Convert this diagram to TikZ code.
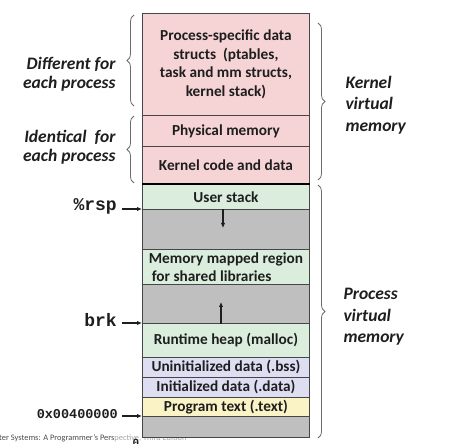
\documentclass[tikz,border=0pt]{standalone}
\usepackage{fontspec}
\setmainfont{Carlito}
\newfontfamily\monof{Liberation Mono}
\usetikzlibrary{arrows.meta,decorations.pathreplacing}
\definecolor{pinkc}{RGB}{246,212,214}
\definecolor{greenc}{RGB}{219,238,221}
\definecolor{grayc}{RGB}{191,191,191}
\definecolor{lavc}{RGB}{221,222,242}
\definecolor{yelc}{RGB}{249,243,197}
\definecolor{edgec}{RGB}{70,70,70}
\definecolor{txtc}{RGB}{30,30,30}
\begin{document}
\begin{tikzpicture}[x=1pt,y=-1pt,
  mem/.style={draw=edgec, line width=0.9pt, minimum width=167pt, inner sep=0pt,
    anchor=north west, align=center, text=txtc,
    font=\fontsize{15.3}{18.5}\selectfont\bfseries},
  side/.style={align=left, text=txtc, font=\fontsize{17.5}{21.5}\selectfont\bfseries\itshape},
  sidel/.style={align=right, text=txtc, font=\fontsize{17.5}{18.5}\selectfont\bfseries\itshape},
  reg/.style={anchor=east, text=txtc, inner sep=0pt, font=\fontsize{18}{18}\selectfont\monof\bfseries},
  ptr/.style={line width=1.3pt, draw=txtc, -{Latex[length=5pt,width=4.5pt]}},
  brc/.style={draw=edgec!80, line width=0.8pt, decorate, decoration={brace, amplitude=7pt}}]
\useasboundingbox (0,0) rectangle (451,444);
\fill[white] (0,0) rectangle (451,444);
% caption (behind the box)
\node[anchor=west, inner sep=0pt, text=black!70, font=\fontsize{8.4}{8.4}\selectfont] (cap) at (-1,438.5)
  {ter Systems: A Programmer's Pers\textcolor{black!35}{pective, Third Edition}};
% kernel part
\node[mem, fill=pinkc, minimum height=102pt] (ps) at (142,13)
  {Process-specific data\\ structs~~(ptables,\\ task and mm structs,\\ kernel stack)};
\node[mem, fill=pinkc, minimum height=31pt] (pm) at (142,115) {Physical memory};
\node[mem, fill=pinkc, minimum height=37pt] (kc) at (142,146) {Kernel code and data};
% process part
\node[mem, fill=greenc, minimum height=25pt] (us) at (142,184) {User stack};
\node[mem, fill=grayc, minimum height=40pt] (g1) at (142,209) {};
\node[mem, fill=greenc, minimum height=35pt, align=left] (mm) at (142,249)
  {Memory mapped region\\ \hspace{3pt}for shared libraries};
\node[mem, fill=grayc, minimum height=39pt] (g2) at (142,284) {};
\node[mem, fill=greenc, minimum height=34pt] (rh) at (142,323) {Runtime heap (malloc)};
\node[mem, fill=lavc, minimum height=20pt] (bss) at (142,357) {Uninitialized data (.bss)};
\node[mem, fill=lavc, minimum height=20pt] (dat) at (142,377) {Initialized data (.data)};
\node[mem, fill=yelc, minimum height=19pt] (txt) at (142,397) {Program text (.text)};
\node[mem, fill=grayc, minimum height=21pt] (g3) at (142,416) {};
\draw[black, line width=2pt] (kc.south west) -- (kc.south east);
% growth arrows
\coordinate (dn) at (223,228);
\coordinate (up) at (221,302);
\draw[ptr] (g1.north -| dn) -- (dn);
\draw[ptr] (g2.south -| up) -- (up);
% register pointers
\node[reg] (rsp) at (117,206) {\%rsp};
\node[reg] (brk) at (117,320) {brk};
\node[reg, font=\fontsize{13.5}{13.5}\selectfont\monof\bfseries] (addr) at (118,414) {0x00400000};
\coordinate (rspc) at (122,209);
\coordinate (brkc) at (122,323);
\coordinate (addrc) at (122,416);
\draw[ptr] (rspc) -- (g1.north west);
\draw[ptr] (brkc) -- (rh.north west);
\draw[ptr] (addrc) -- (g3.north west);
\node[inner sep=0pt, text=txtc, font=\fontsize{11}{11}\selectfont\monof\bfseries] (zero) at (136,443) {0};
% braces
\coordinate (b1a) at (134,106); \coordinate (b1b) at (134,15);
\coordinate (b2a) at (134,183); \coordinate (b2b) at (134,116);
\coordinate (b3a) at (318,23);  \coordinate (b3b) at (318,180);
\coordinate (b4a) at (318,185); \coordinate (b4b) at (318,438);
\draw[brc] (b1a) -- (b1b);
\draw[brc] (b2a) -- (b2b);
\draw[brc] (b3a) -- (b3b);
\draw[brc] (b4a) -- (b4b);
% side labels
\node[sidel, anchor=east] (diff) at (119,74) {Different for\\ each process};
\node[sidel, anchor=east] (iden) at (119,147) {Identical~ for\\ each process};
\node[side, anchor=west] (kvm) at (342,105) {Kernel\\ virtual\\ memory};
\node[side, anchor=west] (pvm) at (340,317) {Process\\ virtual\\ memory};
\end{tikzpicture}
\end{document}
